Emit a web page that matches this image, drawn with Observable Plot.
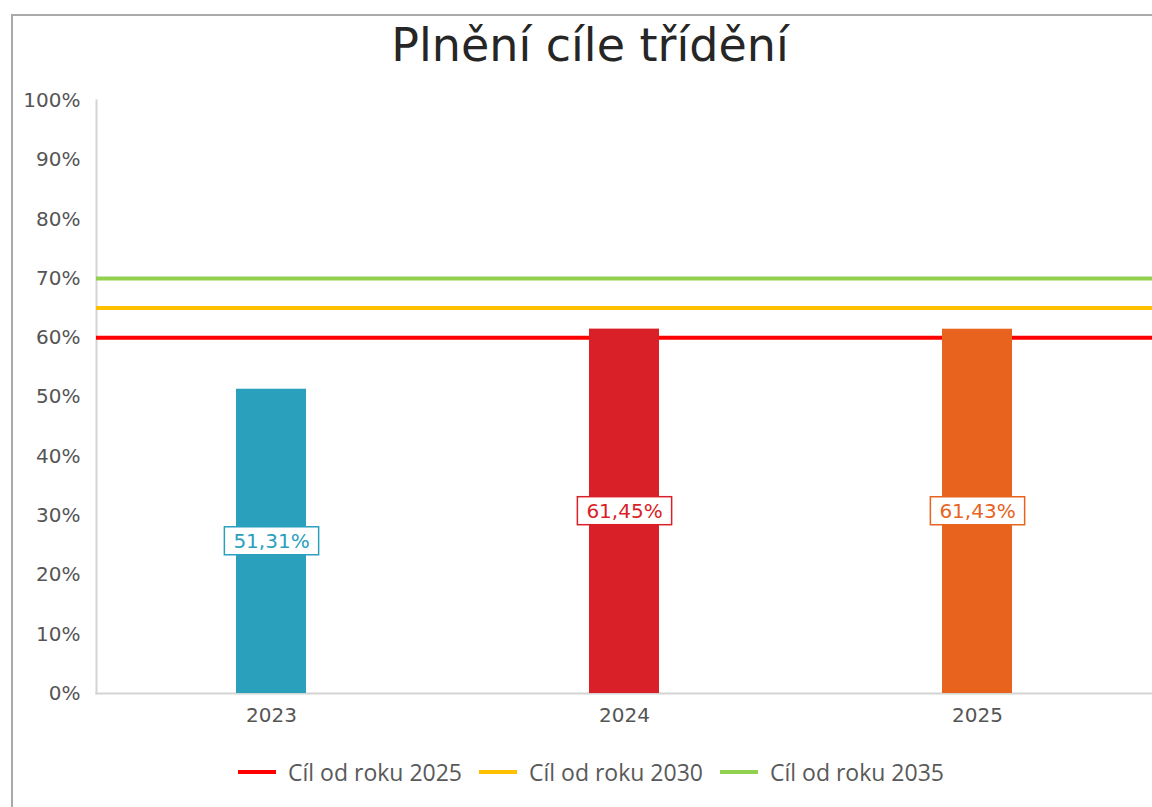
<!DOCTYPE html>
<html>
<head>
<meta charset="utf-8">
<script src="https://cdn.jsdelivr.net/npm/d3@7"></script>
<script src="https://cdn.jsdelivr.net/npm/@observablehq/plot@0.6"></script>
<style>
  html, body { margin: 0; padding: 0; background: #fff; }
  #wrap { position: relative; width: 1152px; height: 807px; overflow: hidden; background: #fff; }
  #frame { position: absolute; left: 11px; top: 14px; width: 1300px; height: 900px;
           border-left: 2px solid #a9a9a9; border-top: 2px solid #a9a9a9; }
  #title { position: absolute; left: 0; top: 20px; width: 1180px; text-align: center;
           font-family: "DejaVu Sans", sans-serif; font-size: 46px; line-height: 50px; color: #262626; }
  #chart { position: absolute; left: 0; top: 85px; }
  #legend { position: absolute; left: 0; top: 757px; width: 1182px; display: flex; justify-content: center;
            align-items: center; font-family: "Open Sans", sans-serif; font-size: 23px; color: #595959; height: 30px; }
  .item { display: flex; align-items: center; margin-right: 17px; }
  .item:last-child { margin-right: 0; }
  .swatch { width: 38px; height: 4px; margin-right: 12px; }
</style>
</head>
<body>
<div id="wrap">
  <div id="frame"></div>
  <div id="title">Plnění cíle třídění</div>
  <div id="chart"></div>
  <div id="legend"></div>
</div>
<script>
// Categories and values
const years = ["2023", "2024", "2025"];
const shares = [51.31, 61.45, 61.43];
const barColors = ["#2ba0bd", "#d91f28", "#e8641e"];

// Target lines
const targetNames = ["Cíl od roku 2025", "Cíl od roku 2030", "Cíl od roku 2035"];
const targetValues = [60, 65, 70];
const targetColors = ["#ff0000", "#ffc000", "#92d050"];

// Tick labels
const yTicks = [0, 10, 20, 30, 40, 50, 60, 70, 80, 90, 100];

const bars = years.map((y, i) => ({year: y, value: shares[i], color: barColors[i]}));
const targets = targetNames.map((n, i) => ({name: n, value: targetValues[i], color: targetColors[i]}));
const fmt = v => v.toFixed(2).replace(".", ",") + "%";

const W = 1152, H = 650;
const plot = Plot.plot({
  width: W,
  height: H,
  marginLeft: 96,
  marginRight: 0,
  marginTop: 15,
  marginBottom: 42,
  style: {fontFamily: "DejaVu Sans, sans-serif", color: "#595959", background: "transparent", overflow: "visible"},
  x: {type: "band", domain: years, range: [94, 1154.5], paddingInner: 0.802, paddingOuter: 0.401, label: null},
  y: {domain: [0, 100], label: null},
  marks: [
    Plot.frame({anchor: "left", stroke: "#d4d4d4", strokeWidth: 2}),
    Plot.frame({anchor: "bottom", stroke: "#d4d4d4", strokeWidth: 2}),
    Plot.axisY({ticks: yTicks, tickFormat: d => d + "%", tickSize: 0, tickPadding: 16, fontSize: 20, fill: "#555"}),
    Plot.axisX({tickSize: 0, tickPadding: 14, fontSize: 20, fill: "#555"}),
    Plot.ruleY(targets, {y: "value", stroke: "color", strokeWidth: 4}),
    Plot.barY(bars, {x: "year", y: "value", fill: "color"}),
    Plot.text(bars, {x: "year", y: d => d.value / 2, text: d => fmt(d.value), fill: "color",
                     fontSize: 20, className: "vlabel"})
  ]
});
document.getElementById("chart").appendChild(plot);

// white boxes with coloured borders behind the value labels
d3.select(plot).selectAll("g.vlabel text").each(function() {
  const bb = this.getBBox();
  const col = this.getAttribute("fill") || d3.select(this).style("fill");
  const t = this.getAttribute("transform");
  const r = document.createElementNS("http://www.w3.org/2000/svg", "rect");
  r.setAttribute("x", bb.x - 9);
  r.setAttribute("y", bb.y + bb.height / 2 - 14);
  r.setAttribute("width", bb.width + 18);
  r.setAttribute("height", 28);
  r.setAttribute("fill", "#fff");
  r.setAttribute("stroke", col);
  r.setAttribute("stroke-width", 1.5);
  if (t) r.setAttribute("transform", t);
  this.parentNode.insertBefore(r, this);
});

// legend
const lg = d3.select("#legend");
targets.forEach(t => {
  const it = lg.append("div").attr("class", "item");
  it.append("div").attr("class", "swatch").style("background", t.color);
  it.append("span").text(t.name);
});
</script>
</body>
</html>
